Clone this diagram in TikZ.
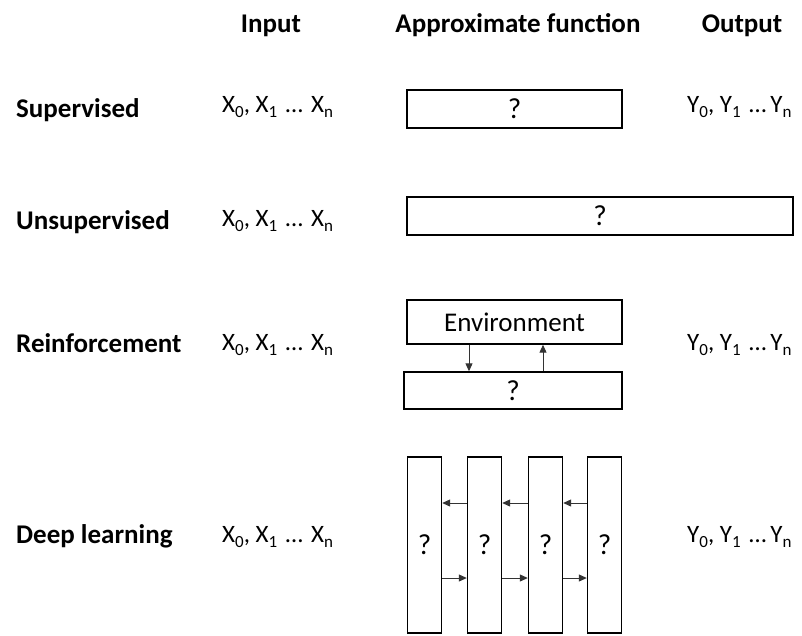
\documentclass[tikz,border=0pt]{standalone}
\usepackage{fontspec}
\setmainfont{Carlito}
\usetikzlibrary{arrows.meta}
\newcommand{\sbx}[1]{\raisebox{-5pt}{\fontsize{17}{17}\selectfont #1}}
\begin{document}
\begin{tikzpicture}[x=1pt,y=-1pt,
  box/.style={draw=black, line width=1.4pt, inner sep=0pt, font=\fontsize{29}{30}\selectfont},
  hdr/.style={font=\bfseries\fontsize{27}{29}\selectfont, anchor=base, inner sep=0pt},
  lbl/.style={font=\bfseries\fontsize{27}{29}\selectfont, anchor=base west, inner sep=0pt},
  val/.style={font=\fontsize{25}{27}\selectfont, anchor=base west, inner sep=0pt},
  arr/.style={-{Triangle[length=8pt,width=7pt]}, line width=1pt, draw=black!80}]
\useasboundingbox (0,0) rectangle (802,635);
% headers
\node[hdr] (hin) at (271,32) {Input};
\node[hdr] (hfn) at (518,32) {Approximate function};
\node[hdr] (hout) at (742,32) {Output};
% row labels
\node[lbl] (l1) at (16,117) {Supervised};
\node[lbl] (l2) at (16,229) {Unsupervised};
\node[lbl] (l3) at (16,352) {Reinforcement};
\node[lbl] (l4) at (16,543) {Deep learning};
% inputs
\node[val] (x1) at (222,112) {X\sbx{0}, X\sbx{1}\,\,…\,\,X\sbx{n}};
\node[val] (x2) at (222,226) {X\sbx{0}, X\sbx{1}\,\,…\,\,X\sbx{n}};
\node[val] (x3) at (222,350) {X\sbx{0}, X\sbx{1}\,\,…\,\,X\sbx{n}};
\node[val] (x4) at (222,542) {X\sbx{0}, X\sbx{1}\,\,…\,\,X\sbx{n}};
% outputs
\node[val] (y1) at (687,112) {Y\sbx{0}, Y\sbx{1}\,\,…\,Y\sbx{n}};
\node[val] (y3) at (687,350) {Y\sbx{0}, Y\sbx{1}\,\,…\,Y\sbx{n}};
\node[val] (y4) at (687,542) {Y\sbx{0}, Y\sbx{1}\,\,…\,Y\sbx{n}};
% supervised
\node[box, minimum width=215, minimum height=38] (s1) at (514.5,109) {?};
% unsupervised
\node[box, minimum width=386, minimum height=38] (u1) at (600,216) {?};
% reinforcement
\node[box, minimum width=215, minimum height=44, font=\fontsize{27}{29}\selectfont] (env) at (514.5,322) {Environment};
\node[box, minimum width=218, minimum height=37] (r1) at (513,390.5) {?};
\coordinate (xd) at (469,0);
\coordinate (xu) at (543,0);
\draw[arr] (env.south -| xd) -- (r1.north -| xd);
\draw[arr] (r1.north -| xu) -- (env.south -| xu);
% deep learning
\node[box, minimum width=34, minimum height=176] (c1) at (424.5,545) {?};
\node[box, minimum width=34, minimum height=176] (c2) at (484.5,545) {?};
\node[box, minimum width=34, minimum height=176] (c3) at (545.5,545) {?};
\node[box, minimum width=34, minimum height=176] (c4) at (604.5,545) {?};
\coordinate (ya) at (0,503);
\coordinate (yb) at (0,578);
\draw[arr] (c2.west |- ya) -- (c1.east |- ya);
\draw[arr] (c3.west |- ya) -- (c2.east |- ya);
\draw[arr] (c4.west |- ya) -- (c3.east |- ya);
\draw[arr] (c1.east |- yb) -- (c2.west |- yb);
\draw[arr] (c2.east |- yb) -- (c3.west |- yb);
\draw[arr] (c3.east |- yb) -- (c4.west |- yb);
\end{tikzpicture}
\end{document}
